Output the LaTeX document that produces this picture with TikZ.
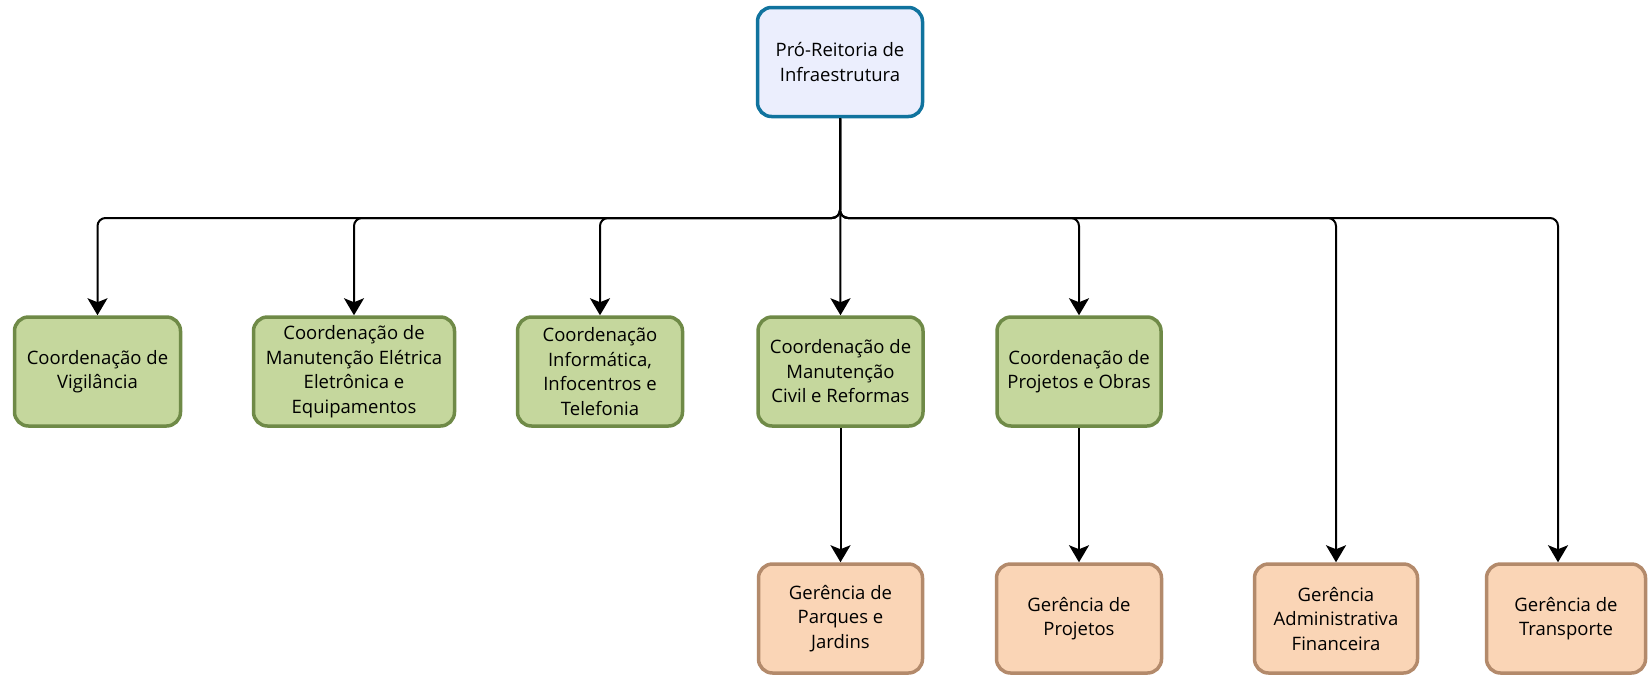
\documentclass[tikz,border=0pt]{standalone}
\usepackage{fontspec}
\setmainfont{Open Sans}
\usetikzlibrary{arrows.meta}

\definecolor{reitfill}{HTML}{EBEEFD}
\definecolor{reitline}{HTML}{10739E}
\definecolor{coordfill}{HTML}{C5D79D}
\definecolor{coordline}{HTML}{6F8A47}
\definecolor{gerfill}{HTML}{FAD5B6}
\definecolor{gerline}{HTML}{B38A6B}

\tikzset{
  unit/.style={rectangle, rounded corners=14pt, line width=3.5pt, align=center,
    minimum height=109pt, inner sep=2pt,
    font=\fontsize{18.5}{24.5}\selectfont},
  reitoria/.style={unit, draw=reitline, fill=reitfill},
  coord/.style={unit, draw=coordline, fill=coordfill},
  gerencia/.style={unit, draw=gerline, fill=gerfill},
  link/.style={line width=2pt, rounded corners=8pt,
    -{Stealth[length=17pt,width=20pt,inset=4pt]}}
}

\begin{document}
\begin{tikzpicture}[x=1pt, y=-1pt]
            \useasboundingbox (0,0) rectangle (1648,678);
            \node[reitoria, minimum width=165pt] (pri) at (840,62) {Pró-Reitoria de\\ Infraestrutura};
            \coordinate (bus) at (840,218);

            \node[coord, minimum width=166pt] (vig) at (97.5,371.5) {Coordenação de\\ Vigilância};
            \node[coord, minimum width=201pt] (ele) at (354,371.5) {Coordenação de\\ Manutenção Elétrica\\ Eletrônica e\\ Equipamentos};
            \node[coord, minimum width=165pt] (inf) at (600,371.5) {Coordenação\\ Informática,\\ Infocentros e\\ Telefonia};
            \node[coord, minimum width=165pt] (civ) at (840.5,371.5) {Coordenação de\\ Manutenção\\ Civil e Reformas};
            \node[coord, minimum width=164pt] (obr) at (1079,371.5) {Coordenação de\\ Projetos e Obras};

            \node[gerencia, minimum width=164pt] (par) at (840.5,618.5) {Gerência de\\ Parques e\\ Jardins};
            \node[gerencia, minimum width=165pt] (prj) at (1079,618.5) {Gerência de\\ Projetos};
            \node[gerencia, minimum width=163pt] (adm) at (1336,618.5) {Gerência\\ Administrativa\\ Financeira};
            \node[gerencia, minimum width=159pt] (tra) at (1566,618.5) {Gerência de\\ Transporte};

            \foreach \u in {vig,ele,inf,obr,adm}
                \draw[link] (pri.south) -- (pri.south |- bus) -| (\u.north);
            \draw[link] (pri.south) -- (pri.south |- bus) -| ([xshift=-8pt]tra.north);
            \draw[link] (pri.south) -- (civ.north);
            \draw[link] (civ.south) -- (par.north);
            \draw[link] (obr.south) -- (prj.north);
        \end{tikzpicture}
\end{document}
